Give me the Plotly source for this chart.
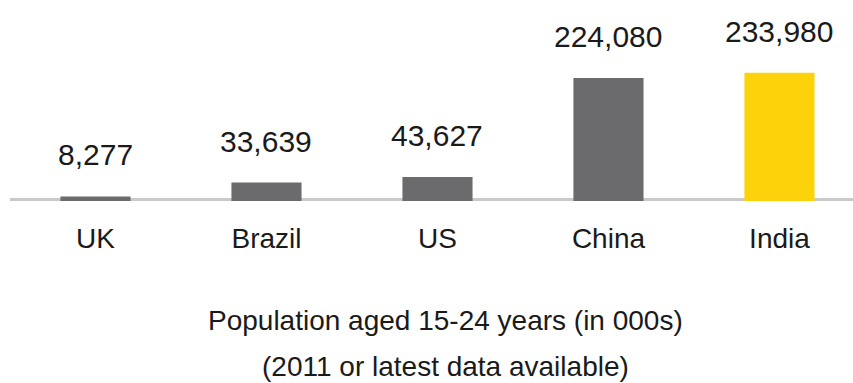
import plotly.graph_objects as go

# Population aged 15-24, in thousands
countries = ["UK", "Brazil", "US", "China", "India"]
population_000s = [8277, 33639, 43627, 224080, 233980]
bar_colors = ["#6b6b6e", "#6b6b6e", "#6b6b6e", "#6b6b6e", "#fcd20a"]

caption_lines = [
    "Population aged 15-24 years (in 000s)",
    "(2011 or latest data available)",
]

FONT = "Liberation Sans Narrow, Arial Narrow, Liberation Sans, Arial, sans-serif"
INK = "#1a1a1a"

fig = go.Figure(
    go.Bar(
        x=countries,
        y=population_000s,
        marker=dict(color=bar_colors, line=dict(width=0)),
        width=0.41,
        hoverinfo="skip",
    )
)

# value labels above each bar
for c, v in zip(countries, population_000s):
    fig.add_annotation(
        x=c, y=v, text=f"{v:,}",
        showarrow=False, yanchor="bottom", yshift=23,
        font=dict(family=FONT, size=30, color=INK),
    )

# grey baseline running under the bars
fig.add_shape(
    type="line", xref="paper", yref="y",
    x0=0, x1=1.02, y0=0, y1=0,
    line=dict(color="#c9c9c9", width=6), layer="below",
)

# two-line caption below the categories
for line_text, ypos in zip(caption_lines, [-0.507, -0.735]):
    fig.add_annotation(
        xref="paper", yref="paper", x=0.517, y=ypos,
        text=line_text,
        showarrow=False, xanchor="center", yanchor="top",
        font=dict(family=FONT, size=28, color=INK),
    )

fig.update_layout(
    width=853, height=383,
    margin=dict(l=10, r=0, t=0, b=182),
    paper_bgcolor="white", plot_bgcolor="white",
    showlegend=False,
    xaxis=dict(
        range=[-0.5, 4.43], showgrid=False, zeroline=False, showline=False,
        ticks="", ticklabelstandoff=18,
        tickfont=dict(family=FONT, size=28, color=INK),
    ),
    yaxis=dict(
        range=[0, 366500], visible=False, showgrid=False, zeroline=False,
    ),
)

fig.write_html("out.html")
